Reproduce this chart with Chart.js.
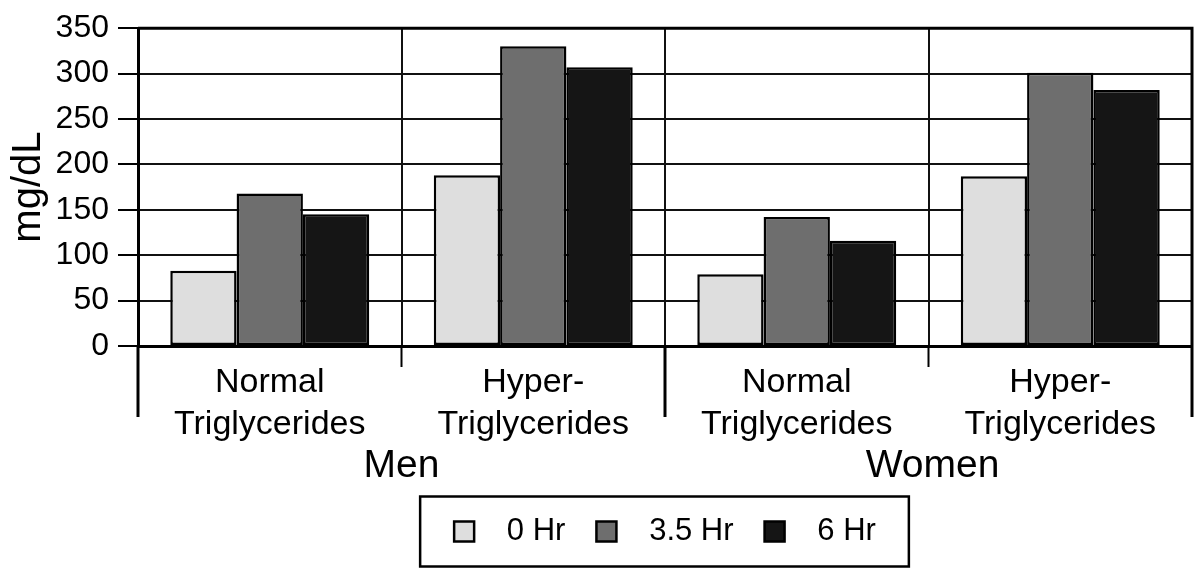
<!DOCTYPE html>
<html><head><meta charset="utf-8">
<script src="https://cdn.jsdelivr.net/npm/chart.js@4.4.1/dist/chart.umd.min.js"></script>
<style>html,body{margin:0;padding:0;background:#fff}#wrap{width:1200px;height:572px;position:relative}</style>
</head><body><div id="wrap"><canvas id="c"></canvas></div>
<script>
const categories = [["Normal","Triglycerides"],["Hyper-","Triglycerides"],["Normal","Triglycerides"],["Hyper-","Triglycerides"]];
const groups = ["Men","Women"];
const seriesNames = ["0 Hr","3.5 Hr","6 Hr"];
const hr0 = [83,188,79,187];
const hr35 = [168,330,142,301];
const hr6 = [145,307,116,282];
const yMin = 0, yMax = 350, yStep = 50;
const yTitle = "mg/dL";

const FONT = "'Liberation Sans', Arial, Helvetica, sans-serif";
Chart.defaults.font.family = FONT;
Chart.defaults.color = '#000';

const fills = ['#dedede','#6e6e6e','#151515'];
const seriesValues = [hr0, hr35, hr6];

const decor = {
  id: 'decor',
  afterDraw(chart) {
    const ctx = chart.ctx, ca = chart.chartArea, xs = chart.scales.x;
    const n = categories.length;
    const bounds = [];
    for (let i = 0; i <= n; i++) {
      if (i === 0) bounds.push(ca.left);
      else if (i === n) bounds.push(ca.right);
      else bounds.push((xs.getPixelForValue(i - 1) + xs.getPixelForValue(i)) / 2);
    }
    ctx.save();
    ctx.strokeStyle = '#000';
    bounds.forEach((bx, i) => {
      const long = (i % 2 === 0);
      ctx.lineWidth = long ? 3 : 2;
      ctx.beginPath();
      ctx.moveTo(bx, ca.bottom);
      ctx.lineTo(bx, ca.bottom + (long ? 71 : 21));
      ctx.stroke();
    });
    // frame
    ctx.lineWidth = 3;
    ctx.beginPath();
    ctx.moveTo(ca.left, ca.top); ctx.lineTo(ca.right, ca.top); ctx.lineTo(ca.right, ca.bottom);
    ctx.stroke();
    // group labels
    ctx.font = "39px " + FONT;
    ctx.fillStyle = '#000';
    ctx.textAlign = 'center';
    ctx.textBaseline = 'alphabetic';
    groups.forEach((g, k) => {
      const cx = (xs.getPixelForValue(2 * k) + xs.getPixelForValue(2 * k + 1)) / 2;
      ctx.fillText(g, cx + (k === 1 ? 4 : 0), ca.bottom + 131);
    });
    // legend box
    const hb = chart.legend.legendHitBoxes;
    if (hb && hb.length) {
      const l = hb[0].left - 34;
      const last = hb[hb.length - 1];
      const r = last.left + last.width + 33;
      const cy = hb[0].top + hb[0].height / 2;
      ctx.lineWidth = 2.5;
      ctx.strokeRect(l, cy - 35, r - l, 70);
    }
    ctx.restore();
  }
};

new Chart(document.getElementById('c'), {
  type: 'bar',
  data: {
    labels: categories,
    datasets: seriesNames.map((name, i) => ({
      label: name,
      data: seriesValues[i],
      backgroundColor: fills[i],
      borderColor: '#000',
      borderWidth: 2.5,
      borderSkipped: false,
      categoryPercentage: 0.755,
      barPercentage: 1.0
    }))
  },
  options: {
    responsive: true,
    maintainAspectRatio: false,
    animation: false,
    layout: { padding: { top: 25, right: 8, left: 0, bottom: 15 } },
    plugins: {
      tooltip: { enabled: false },
      legend: {
        position: 'bottom',
        fullSize: false,
        labels: {
          boxWidth: 20, boxHeight: 20,
          font: { size: 31 },
          color: '#000',
          padding: 31,
          generateLabels(chart) {
            const items = Chart.defaults.plugins.legend.labels.generateLabels(chart);
            items.forEach(it => { it.text = '  ' + it.text; it.lineWidth = 2.5; });
            return items;
          }
        }
      }
    },
    scales: {
      x: {
        afterFit(scale) { scale.height = 139; },
        grid: {
          color: '#111',
          lineWidth: 2,
          drawTicks: false,
          offset: true
        },
        border: { display: true, color: '#000', width: 3 },
        ticks: { font: { size: 34, lineHeight: 1.23 }, color: '#000', padding: 16, maxRotation: 0, autoSkip: false }
      },
      y: {
        min: yMin, max: yMax,
        afterFit(scale) { scale.width = 138; },
        grid: { color: '#111', lineWidth: 2, drawTicks: true, tickLength: 20, tickColor: '#000', tickWidth: 2 },
        border: { display: true, color: '#000', width: 3 },
        ticks: { stepSize: yStep, font: { size: 32 }, color: '#000', padding: 9 },
        title: { display: true, text: yTitle, font: { size: 40 }, color: '#000', padding: { top: 5, bottom: 0 } }
      }
    }
  },
  plugins: [decor]
});
</script>
</body></html>
